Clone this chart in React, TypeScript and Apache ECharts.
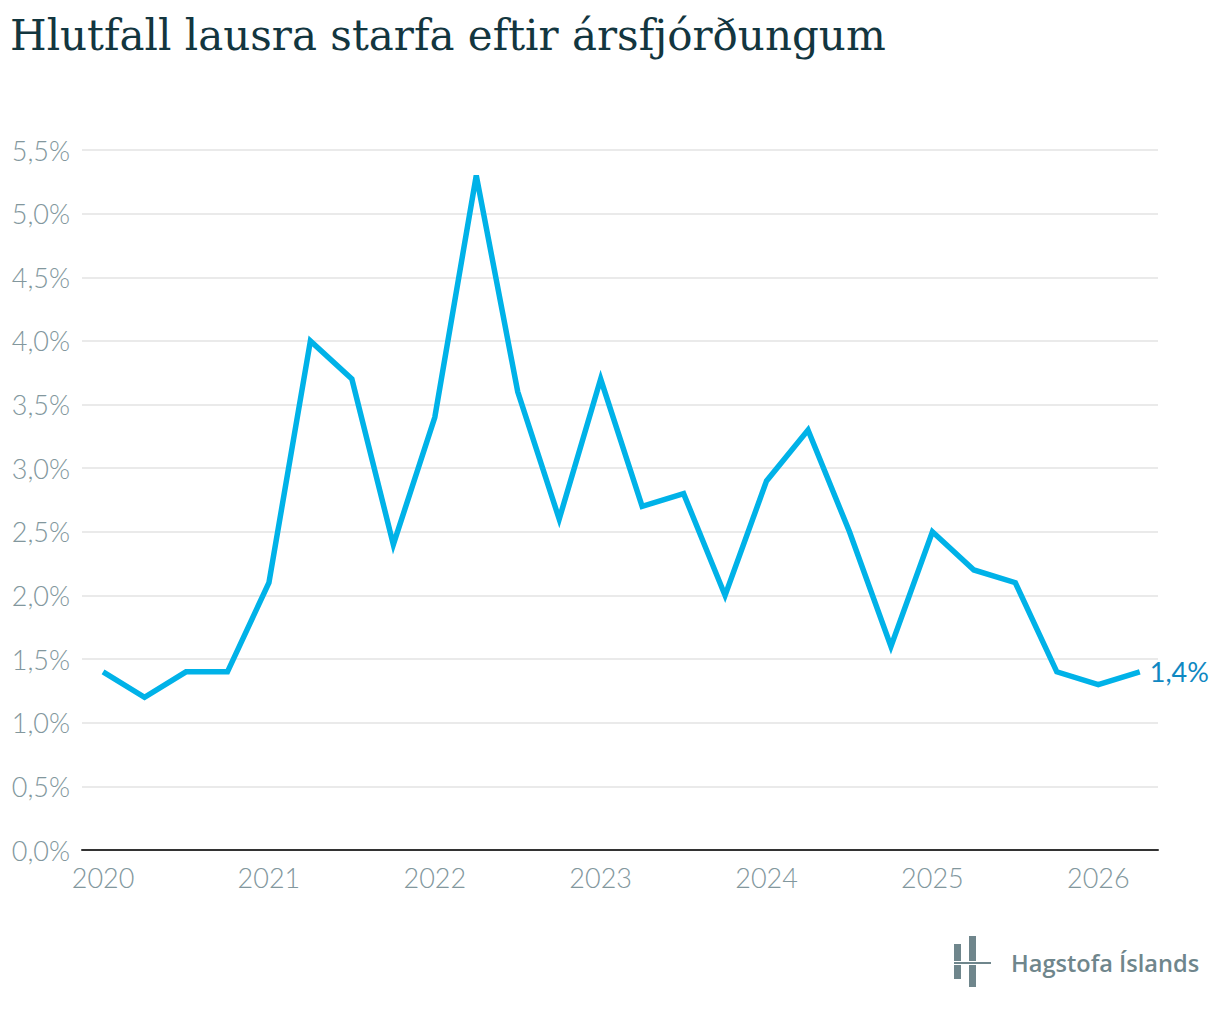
import React, { useEffect, useRef } from "react";
import * as echarts from "echarts";

const title = "Hlutfall lausra starfa eftir ársfjórðungum";
const years = [2020, 2021, 2022, 2023, 2024, 2025, 2026];
const quarters = [
  "2020Q1", "2020Q2", "2020Q3", "2020Q4",
  "2021Q1", "2021Q2", "2021Q3", "2021Q4",
  "2022Q1", "2022Q2", "2022Q3", "2022Q4",
  "2023Q1", "2023Q2", "2023Q3", "2023Q4",
  "2024Q1", "2024Q2", "2024Q3", "2024Q4",
  "2025Q1", "2025Q2", "2025Q3", "2025Q4",
  "2026Q1", "2026Q2",
];
const vacancyRate = [
  1.4, 1.2, 1.4, 1.4,
  2.1, 4.0, 3.7, 2.4,
  3.4, 5.3, 3.6, 2.6,
  3.7, 2.7, 2.8, 2.0,
  2.9, 3.3, 2.5, 1.6,
  2.5, 2.2, 2.1, 1.4,
  1.3, 1.4,
];
const logoText = "Hagstofa Íslands";

const fmtPct = (v: number) => v.toFixed(1).replace(".", ",") + "%";
const quarterToX = (q: string) => Number(q.slice(0, 4)) + (Number(q.slice(5)) - 1) / 4;

export default function App() {
  const ref = useRef<HTMLDivElement>(null);
  useEffect(() => {
    document.body.style.margin = "0";
    const chart = echarts.init(ref.current!, null, { renderer: "svg" });
    const data = quarters.map((q, i) => [quarterToX(q), vacancyRate[i]]);
    const logoColor = "#6f868c";
    chart.setOption({
      animation: false,
      backgroundColor: "#ffffff",
      title: {
        text: title,
        left: 10,
        top: 14,
        padding: 0,
        textStyle: {
          fontFamily: "DejaVu Serif",
          fontWeight: "normal",
          fontSize: 42,
          color: "#13363f",
        },
      },
      grid: { left: 82, right: 62, top: 150, bottom: 162, containLabel: false },
      xAxis: {
        type: "value",
        min: 2019.873,
        max: 2026.36,
        axisLine: { show: true, lineStyle: { color: "#333333", width: 2 } },
        axisTick: { show: false },
        splitLine: { show: false },
        axisLabel: {
          customValues: years,
          formatter: (v: number) => String(Math.round(v)),
          color: "#82979d",
          fontFamily: "Lato",
          fontWeight: 300,
          fontSize: 27,
          margin: 14,
        },
      },
      yAxis: {
        type: "value",
        min: 0,
        max: 5.5,
        interval: 0.5,
        axisLine: { show: false },
        axisTick: { show: false },
        splitLine: { show: true, lineStyle: { color: "#e3e3e3", width: 1.5 } },
        axisLabel: {
          formatter: (v: number) => fmtPct(v),
          color: "#82979d",
          fontFamily: "Lato",
          fontWeight: 300,
          fontSize: 27,
          margin: 12,
        },
      },
      series: [
        {
          type: "line",
          data,
          showSymbol: false,
          symbol: "none",
          lineStyle: { color: "#00b2e8", width: 5.5, join: "miter" },
          z: 3,
          endLabel: {
            show: true,
            formatter: () => fmtPct(vacancyRate[vacancyRate.length - 1]),
            color: "#0f88c2",
            fontFamily: "Lato",
            fontSize: 27,
            distance: 10,
          },
        },
      ],
      graphic: [
        { type: "rect", shape: { x: 954, y: 944, width: 7, height: 17 }, style: { fill: logoColor } },
        { type: "rect", shape: { x: 954, y: 965, width: 7, height: 14 }, style: { fill: logoColor } },
        { type: "rect", shape: { x: 969, y: 936, width: 7, height: 25 }, style: { fill: logoColor } },
        { type: "rect", shape: { x: 969, y: 965, width: 7, height: 22 }, style: { fill: logoColor } },
        { type: "rect", shape: { x: 954, y: 962, width: 37, height: 2 }, style: { fill: logoColor } },
        {
          type: "text",
          x: 1011,
          y: 963,
          style: {
            text: logoText,
            fill: logoColor,
            font: "600 23.6px 'Open Sans'",
            verticalAlign: "middle",
            align: "left",
          },
        },
      ],
    });
    return () => chart.dispose();
  }, []);
  return <div ref={ref} style={{ width: 1220, height: 1012 }} />;
}
